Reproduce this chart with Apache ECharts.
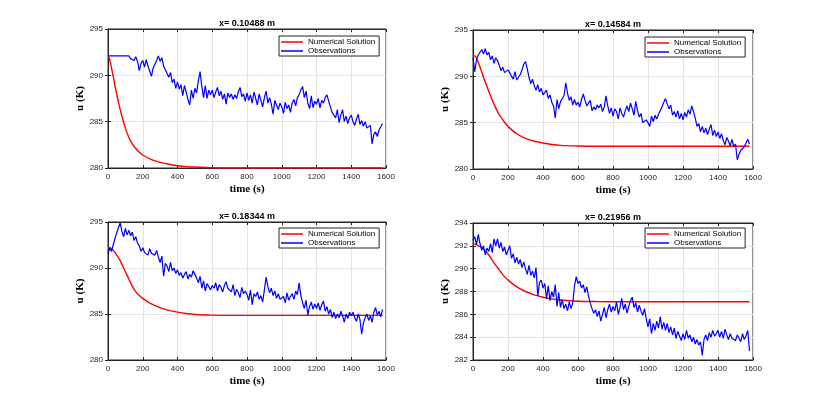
<!DOCTYPE html>
<html>
<head>
<meta charset="utf-8">
<script src="https://cdn.jsdelivr.net/npm/echarts@6/dist/echarts.min.js"></script>
<style>
  html, body { margin: 0; padding: 0; background: #fff; }
  #chart-container { width: 830px; height: 405px; }
</style>
</head>
<body>
<div id="chart-container"></div>
<script>
// sensor positions (titles)
const positions = ['x= 0.10488 m', 'x= 0.14584 m', 'x= 0.18344 m', 'x= 0.21956 m'];

// time samples of the numerical solution (s)
const numTime = [0, 10, 20, 30, 40, 50, 60, 70, 80, 100, 120, 140, 160, 180, 200, 250, 300, 350,
  400, 450, 500, 600, 700, 800, 900, 1000, 1100, 1200, 1300, 1400, 1500, 1580];

// numerical solution u (K), one list per sensor
const num1 = [292.2, 291.7, 290.8, 289.9, 288.9, 288.0, 287.1, 286.3, 285.6, 284.3, 283.3, 282.6, 282.1, 281.7, 281.4, 280.9, 280.6, 280.4,
  280.25, 280.15, 280.1, 280.03, 280.0, 280.0, 280.0, 280.0, 280.0, 280.0, 280.0, 280.0, 280.0, 280.0];
const num2 = [292.2, 292.2, 292.0, 291.5, 291.0, 290.5, 289.9, 289.4, 288.9, 287.9, 287.0, 286.2, 285.6, 285.05, 284.6, 283.8, 283.3, 283.0,
  282.8, 282.65, 282.55, 282.48, 282.45, 282.45, 282.45, 282.45, 282.45, 282.45, 282.45, 282.45, 282.45, 282.45];
const num3 = [292.2, 292.2, 292.1, 291.9, 291.7, 291.4, 291.1, 290.8, 290.4, 289.6, 288.8, 288.0, 287.4, 287.0, 286.7, 286.1, 285.7, 285.4,
  285.2, 285.05, 284.95, 284.88, 284.85, 284.85, 284.85, 284.85, 284.85, 284.85, 284.85, 284.85, 284.85, 284.85];
const num4 = [292.2, 292.15, 292.1, 292.0, 291.95, 291.85, 291.7, 291.55, 291.4, 291.0, 290.5, 290.1, 289.7, 289.3, 289.0, 288.4, 288.0, 287.7,
  287.5, 287.35, 287.25, 287.15, 287.12, 287.1, 287.1, 287.1, 287.1, 287.1, 287.1, 287.1, 287.1, 287.1];

// observations, one value every 10 s from 0 to 1580 s
const obsStep = 10;
const obs1 = [
  292.1, 292.1, 292.1, 292.1, 292.1, 292.1, 292.1, 292.1, 292.1, 292.1,
  292.1, 292.0, 292.1, 291.8, 292.0, 291.6, 292.0, 291.5, 290.5, 291.3,
  291.6, 290.9, 291.7, 291.0, 291.2, 289.9, 290.8, 291.2, 291.6, 292.1,
  291.5, 291.9, 291.0, 290.6, 290.2, 289.8, 290.3, 289.2, 289.6, 288.6,
  289.3, 288.5, 289.0, 287.8, 288.9, 288.2, 287.4, 286.8, 288.4, 287.5,
  288.6, 288.1, 289.4, 290.4, 288.8, 287.6, 288.9, 287.5, 288.4, 287.9,
  288.4, 287.6, 288.2, 288.7, 287.8, 288.3, 287.4, 288.0, 286.9, 288.1,
  287.6, 288.0, 287.4, 287.9, 287.5, 288.2, 288.7, 287.7, 288.0, 287.2,
  288.1, 287.3, 287.9, 287.0, 288.2, 287.5, 286.8, 288.0, 287.3, 286.6,
  287.6, 288.3, 287.0, 287.6, 286.9, 285.8, 287.3, 286.8, 286.3, 287.0,
  286.6, 285.9, 287.1, 286.4, 286.8, 286.0, 287.0, 287.4, 286.7, 287.6,
  287.9, 288.4, 288.8, 287.6, 288.3, 287.0, 286.4, 287.8, 286.5, 287.2,
  286.9, 287.5, 286.5, 287.3, 287.0, 287.6, 287.9, 287.2, 286.6, 286.0,
  285.8, 285.4, 286.3, 284.9, 285.7, 286.3, 285.0, 285.6, 284.8, 285.4,
  285.7, 285.0, 284.6, 285.3, 285.8, 284.7, 285.1, 284.5, 285.0, 284.3,
  284.1, 284.6, 282.6, 283.6, 283.9, 283.4, 284.1, 284.3, 284.8
];
const obs2 = [
  292.0, 290.5, 291.8, 292.3, 292.6, 292.9, 292.4, 293.0, 292.3, 292.6,
  291.8, 292.2, 291.4, 292.0, 291.7, 291.2, 290.6, 291.0, 290.4, 290.2,
  290.7, 290.4, 290.0, 289.7, 290.5, 289.6, 289.4, 290.2, 290.7, 291.3,
  291.6, 290.8, 289.9, 289.2, 289.7, 289.0, 288.5, 289.1, 288.3, 288.7,
  288.0, 287.9, 288.5, 287.6, 288.0, 287.2, 286.8, 285.5, 287.5, 286.5,
  287.3, 287.6, 287.9, 289.3, 288.2, 287.4, 287.8, 286.9, 287.5, 286.9,
  287.2, 286.7, 287.5, 288.1, 287.4, 286.8, 287.0, 287.4, 286.3, 286.7,
  286.4, 286.9, 286.6, 287.0, 286.2, 286.7, 287.9, 286.8, 286.0, 286.6,
  285.7, 286.5, 286.2, 285.4, 286.6, 286.0, 285.6, 286.3, 286.8, 286.2,
  287.1, 286.5, 285.8, 287.3, 286.3, 285.6, 286.0, 285.0, 284.8, 285.3,
  285.0, 284.6, 285.7, 285.1, 285.8, 285.4, 285.9, 286.3, 286.7, 287.2,
  287.6, 287.0, 286.5, 286.9, 285.8, 286.2, 285.6, 286.3, 285.4, 286.0,
  285.3, 286.1, 285.6, 286.4, 285.9, 286.8, 286.2, 285.5, 284.6, 284.9,
  284.0, 284.6, 283.9, 284.4, 283.7, 284.3, 284.8, 283.6, 284.2, 283.5,
  284.0, 283.3, 283.8, 283.1, 282.6, 283.4, 283.0, 282.5, 283.2, 282.4,
  282.7, 281.0, 281.6, 282.0, 281.8, 282.4, 282.8, 283.2, 282.7
];
const obs3 = [
  291.5, 292.2, 291.8, 292.5, 293.2, 293.8, 294.4, 294.9, 294.0, 293.4,
  294.3, 293.6, 294.1, 293.5, 293.9, 293.0, 293.4, 292.7, 292.4, 291.8,
  292.2, 291.7, 291.9, 291.4, 292.1, 291.6, 291.8, 291.4, 291.9, 291.2,
  290.6, 291.3, 289.1, 290.5, 290.2, 289.6, 290.6, 289.7, 290.0, 289.4,
  289.8, 289.2, 289.5, 288.9, 289.3, 289.6, 288.8, 289.3, 289.0, 289.7,
  289.9, 288.9, 288.4, 289.1, 287.8, 288.6, 287.5, 288.3, 288.0, 287.6,
  288.1, 287.8, 288.4, 287.5, 288.2, 287.9, 287.4, 288.1, 288.5, 287.8,
  288.0, 287.4, 288.2, 287.0, 287.7, 287.3, 286.8, 287.9, 287.2, 287.5,
  287.1, 286.5, 287.6, 286.0, 287.2, 286.9, 287.4, 286.6, 287.0, 286.3,
  287.6, 289.0, 288.0, 287.3, 287.8, 287.0, 287.5, 286.7, 287.2, 286.6,
  286.4, 286.9, 286.2, 287.3, 286.5, 286.9, 287.2, 286.6, 287.5, 287.1,
  288.4, 287.0, 286.2, 285.6, 286.5, 284.9, 285.8, 286.3, 285.5, 286.1,
  285.6, 286.2, 285.4, 286.0, 286.4, 285.3, 285.8, 285.0, 285.5, 284.6,
  285.2, 284.5, 285.0, 284.6, 285.3, 284.8, 284.1, 285.0, 284.5, 285.2,
  284.8, 285.2, 284.6, 284.2, 285.0, 284.4, 282.8, 284.0, 284.6, 285.0,
  284.3, 284.8, 284.1, 285.2, 285.7, 284.9, 285.3, 284.7, 285.5
];
const obs4 = [
  292.5, 292.8, 292.1, 293.0, 292.2, 291.6, 292.0, 291.2, 291.8, 291.5,
  292.2, 291.4, 292.6, 292.0, 292.6, 291.8, 292.3, 291.5, 291.9, 291.2,
  291.6, 292.0, 290.9, 291.3, 290.5, 291.0, 290.4, 290.8, 290.1, 290.6,
  290.0, 289.5, 290.3, 289.4, 289.8, 289.2, 290.1, 287.6, 288.8, 289.0,
  288.3, 288.7, 287.4, 288.5, 287.2, 288.0, 287.5, 288.6, 286.7, 287.9,
  286.6, 287.3, 286.5, 286.9, 286.3, 287.1, 286.5, 287.0, 288.5, 289.3,
  288.7, 288.9, 288.3, 288.6, 287.9, 288.4, 287.6, 287.0, 286.5, 286.1,
  286.4, 285.8, 286.3, 285.4, 286.0, 286.6, 285.7, 286.4, 286.9, 286.2,
  286.7, 286.3, 287.1, 286.0, 286.6, 287.4, 286.4, 286.9, 286.1, 286.7,
  287.2, 287.5, 286.6, 287.0, 286.2, 286.8, 286.3, 285.9, 286.5, 285.6,
  284.9, 285.6, 284.3, 285.2, 284.6, 285.4, 284.8, 285.8, 284.7, 285.3,
  284.6, 285.2, 284.4, 284.9, 284.2, 284.8, 283.9, 284.5, 284.1, 283.7,
  284.3, 283.8, 284.6, 283.9, 284.2, 283.6, 284.0, 283.4, 283.8, 283.3,
  283.6, 282.4, 283.8, 284.2, 283.7, 284.4, 284.0, 284.6, 284.1, 284.3,
  284.6, 284.0, 284.5, 283.9, 284.7, 284.2, 283.8, 284.3, 283.9, 284.0,
  283.7, 284.2, 283.9, 283.6, 284.3, 283.8, 284.1, 284.6, 282.8
];

// axis ranges per panel
const xTicks = [0, 1600, 200];
const yRanges = [[280, 295, 5], [280, 295, 5], [280, 295, 5], [282, 294, 2]];

const numSeries = [num1, num2, num3, num4];
const obsSeries = [obs1, obs2, obs3, obs4];

// panel layout (pixels)
const panels = [
  { left: 108, top: 29, width: 278, height: 139, legendLeft: 279, legendTop: 36 },
  { left: 473, top: 30, width: 280, height: 139, legendLeft: 645, legendTop: 37 },
  { left: 108, top: 222, width: 278, height: 138, legendLeft: 279, legendTop: 228 },
  { left: 473, top: 223, width: 280, height: 137, legendLeft: 645, legendTop: 228 }
];

const axisColor = '#262626';
const gridColor = '#e3e3e3';
const labelFont = 'Liberation Serif';
const tickFont = 'Liberation Sans';

let myChart = echarts.init(document.getElementById('chart-container'), null, { renderer: 'canvas' });

const grids = [], xAxes = [], yAxes = [], xMirror = [], yMirror = [];
const series = [], legends = [], titles = [];

panels.forEach((p, i) => {
  grids.push({
    left: p.left, top: p.top, width: p.width, height: p.height,
    show: true, borderColor: axisColor, borderWidth: 1, backgroundColor: '#fff'
  });

  titles.push({
    text: positions[i],
    left: p.left + p.width / 2,
    top: p.top - 10,
    textAlign: 'center',
    padding: 0,
    textStyle: { fontFamily: tickFont, fontSize: 9, fontWeight: 'bold', color: '#000' }
  });

  const tickStyle = { show: true, inside: true, length: 3, lineStyle: { color: axisColor } };
  const labelStyle = { fontFamily: tickFont, fontSize: 8, color: axisColor, margin: 5, formatter: v => String(v) };

  xAxes.push({
    type: 'value', gridIndex: i,
    min: xTicks[0], max: xTicks[1], interval: xTicks[2],
    name: 'time (s)', nameLocation: 'middle', nameGap: 16,
    nameTextStyle: { fontFamily: labelFont, fontSize: 11, fontWeight: 'bold', color: '#000' },
    axisLine: { show: true, lineStyle: { color: axisColor, width: 1 } },
    axisTick: tickStyle,
    axisLabel: labelStyle,
    splitLine: { show: true, lineStyle: { color: gridColor, width: 1 } }
  });
  xMirror.push({
    type: 'value', gridIndex: i, position: 'top',
    min: xTicks[0], max: xTicks[1], interval: xTicks[2],
    axisLine: { show: true, lineStyle: { color: axisColor, width: 1 } },
    axisTick: tickStyle, axisLabel: { show: false }, splitLine: { show: false }
  });

  const r = yRanges[i];
  yAxes.push({
    type: 'value', gridIndex: i,
    min: r[0], max: r[1], interval: r[2],
    name: 'u (K)', nameLocation: 'middle', nameGap: 21,
    nameTextStyle: { fontFamily: labelFont, fontSize: 11, fontWeight: 'bold', color: '#000' },
    axisLine: { show: true, lineStyle: { color: axisColor, width: 1 } },
    axisTick: tickStyle,
    axisLabel: labelStyle,
    splitLine: { show: true, lineStyle: { color: gridColor, width: 1 } }
  });
  yMirror.push({
    type: 'value', gridIndex: i, position: 'right',
    min: r[0], max: r[1], interval: r[2],
    axisLine: { show: true, lineStyle: { color: axisColor, width: 1 } },
    axisTick: tickStyle, axisLabel: { show: false }, splitLine: { show: false }
  });

  series.push({
    name: 'Numerical Solution', type: 'line',
    xAxisIndex: i, yAxisIndex: i,
    data: numTime.map((t, k) => [t, numSeries[i][k]]),
    symbol: 'none', smooth: 0.3,
    lineStyle: { color: '#ff0000', width: 1.4 },
    itemStyle: { color: '#ff0000' },
    animation: false
  });

  series.push({
    name: 'Observations', type: 'line',
    xAxisIndex: i, yAxisIndex: i,
    data: obsSeries[i].map((v, k) => [k * obsStep, v]),
    symbol: 'none',
    lineStyle: { color: '#0000ff', width: 1.2 },
    itemStyle: { color: '#0000ff' },
    animation: false
  });

  legends.push({
    data: ['Numerical Solution', 'Observations'],
    left: p.legendLeft, top: p.legendTop,
    orient: 'vertical',
    backgroundColor: '#fff',
    borderColor: axisColor, borderWidth: 1,
    padding: [2, 4, 1, 2],
    itemGap: 1, itemWidth: 22, itemHeight: 1.5,
    icon: 'rect',
    selectedMode: false,
    textStyle: { fontFamily: tickFont, fontSize: 8, color: '#000' }
  });
});

const opciones = {
  backgroundColor: '#fff',
  animation: false,
  title: titles,
  legend: legends,
  grid: grids,
  xAxis: xAxes.concat(xMirror),
  yAxis: yAxes.concat(yMirror),
  series: series
};

myChart.setOption(opciones, true);
window.addEventListener('resize', myChart.resize);
</script>
</body>
</html>
